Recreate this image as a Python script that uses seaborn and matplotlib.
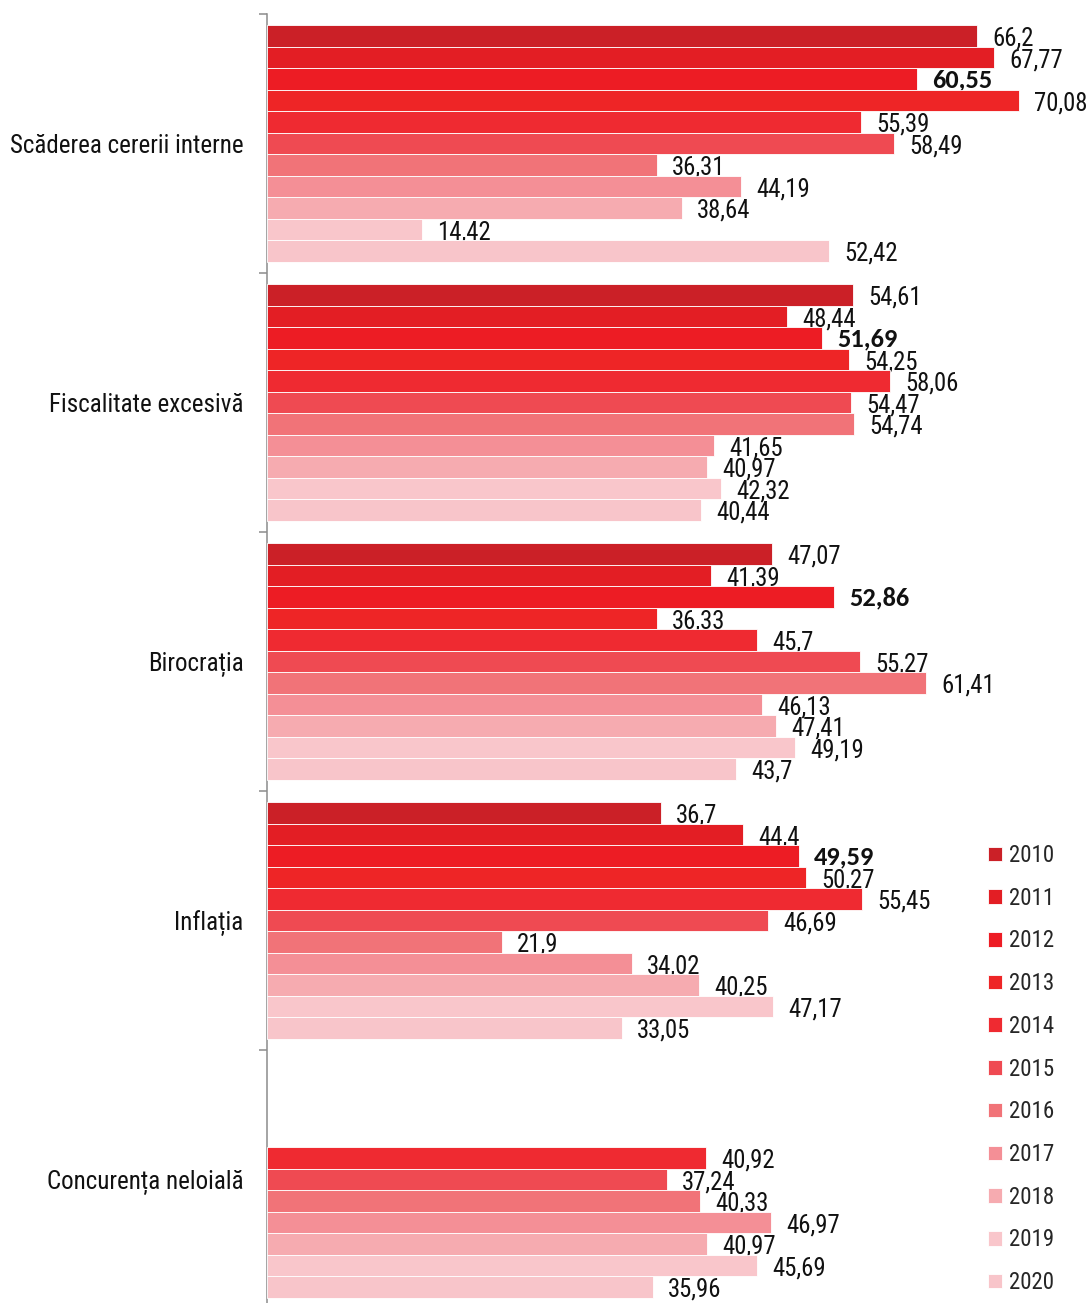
import numpy as np
import pandas as pd
import matplotlib
matplotlib.use("Agg")
import matplotlib.pyplot as plt
import seaborn as sns

# Survey data: share of respondents citing each obstacle, by year
categories = [
    "Scăderea cererii interne",
    "Fiscalitate excesivă",
    "Birocrația",
    "Inflația",
    "Concurența neloială",
]
years = ["2010", "2011", "2012", "2013", "2014", "2015",
         "2016", "2017", "2018", "2019", "2020"]

scaderea_cererii = [66.2, 67.77, 60.55, 70.08, 55.39, 58.49, 36.31, 44.19, 38.64, 14.42, 52.42]
fiscalitate = [54.61, 48.44, 51.69, 54.25, 58.06, 54.47, 54.74, 41.65, 40.97, 42.32, 40.44]
birocratia = [47.07, 41.39, 52.86, 36.33, 45.7, 55.27, 61.41, 46.13, 47.41, 49.19, 43.7]
inflatia = [36.7, 44.4, 49.59, 50.27, 55.45, 46.69, 21.9, 34.02, 40.25, 47.17, 33.05]
concurenta = [np.nan, np.nan, np.nan, np.nan, 40.92, 37.24, 40.33, 46.97, 40.97, 45.69, 35.96]

series = [scaderea_cererii, fiscalitate, birocratia, inflatia, concurenta]

palette = ["#CB2027", "#E31E24", "#ED1C24", "#EE2526", "#EF2A31", "#EF4A52",
           "#F17378", "#F48F96", "#F6ABB0", "#F9C6CB", "#F8C5CA"]

highlight_year = "2012"

rows = []
for cat, vals in zip(categories, series):
    for yr, v in zip(years, vals):
        if not np.isnan(v):
            rows.append({"categorie": cat, "an": yr, "valoare": v})
df = pd.DataFrame(rows)

sns.set_style("white")
plt.rcParams["font.family"] = ["Roboto Condensed", "DejaVu Sans"]
bold_family = ["Carlito", "Open Sans", "DejaVu Sans"]

fig = plt.figure(figsize=(10.92, 13.03), dpi=100)
ax = fig.add_axes([267 / 1092, 0.0, 1 - 267 / 1092, 1 - 14 / 1303])

sns.barplot(data=df, y="categorie", x="valoare", hue="an",
            order=categories, hue_order=years, palette=palette,
            orient="h", width=0.915, dodge=True, errorbar=None,
            edgecolor="#ffffff", linewidth=0.6, saturation=1, ax=ax, zorder=3)

ax.set_xlim(0, 76.9)
ax.set_ylim(4.477, -0.5)

# value labels, comma as decimal separator
for container, yr in zip(ax.containers, years):
    for bar in container:
        w = bar.get_width()
        if np.isnan(w) or w == 0:
            continue
        yc = bar.get_y() + bar.get_height() / 2
        txt = f"{w:g}".replace(".", ",")
        if yr == highlight_year:
            ax.annotate(txt, xy=(w, yc), xytext=(11, -0.8), textcoords="offset points",
                        ha="left", va="center", fontsize=19, fontweight="bold",
                        family=bold_family, color="#111111", zorder=1,
                        annotation_clip=False)
        else:
            ax.annotate(txt, xy=(w, yc), xytext=(11, -2), textcoords="offset points",
                        ha="left", va="center", fontsize=17.8,
                        color="#111111", zorder=1, annotation_clip=False)

ax.set_xlabel("")
ax.set_ylabel("")
ax.set_xticks([])
ax.set_yticks(range(len(categories)))
ax.set_yticklabels(categories, fontsize=18, color="#111111")
ax.set_yticks(np.arange(-0.5, 4.0, 1.0), minor=True)
ax.tick_params(axis="y", which="major", length=0, pad=17)
ax.tick_params(axis="y", which="minor", length=5.8, width=1.1, color="#8c8c8c", direction="out", left=True)

for side in ["top", "right", "bottom"]:
    ax.spines[side].set_visible(False)
ax.spines["left"].set_color("#8c8c8c")
ax.spines["left"].set_linewidth(1.1)

handles, labels = ax.get_legend_handles_labels()
ax.get_legend().remove()
ax.legend(handles, labels, loc="upper left", bbox_to_anchor=(988 / 1092, 1 - 844 / 1303),
          bbox_transform=fig.transFigure, frameon=False, fontsize=16.5,
          handlelength=0.6, handleheight=0.6, handletextpad=0.3,
          labelspacing=0.86, borderpad=0, borderaxespad=0)

fig.savefig("out.png", dpi=100, facecolor="white")
